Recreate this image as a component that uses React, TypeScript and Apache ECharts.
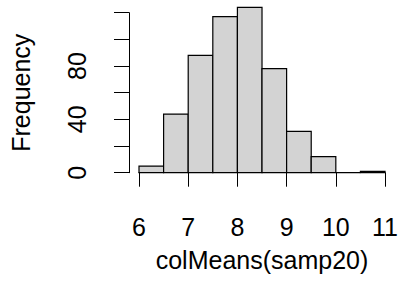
import React, { useEffect, useRef } from "react";
import * as echarts from "echarts";

const binStarts = [6, 6.5, 7, 7.5, 8, 8.5, 9, 9.5, 10, 10.5];
const binEnds = [6.5, 7, 7.5, 8, 8.5, 9, 9.5, 10, 10.5, 11];
const counts = [5, 44, 88, 117, 124, 78, 31, 12, 0, 1];
const xTicks = [6, 7, 8, 9, 10, 11];
const yLabelled = [0, 40, 80];

const FONT = "'Liberation Sans', Arial, Helvetica, sans-serif";

export default function App() {
  const ref = useRef<HTMLDivElement>(null);
  useEffect(() => {
    if (!ref.current) return;
    const chart = echarts.init(ref.current, null, { renderer: "svg" });
    const data = binStarts.map((s, i) => [s, binEnds[i], counts[i]]);
    chart.setOption({
      animation: false,
      backgroundColor: "#ffffff",
      grid: { left: 138.3, right: 13.3, top: 12.7, bottom: 131.3 },
      xAxis: {
        type: "value",
        min: 6,
        max: 11,
        interval: 1,
        offset: 8,
        name: "colMeans(samp20)",
        nameLocation: "middle",
        nameGap: 67,
        nameTextStyle: { fontFamily: FONT, fontSize: 25, color: "#000" },
        axisLine: { show: true, lineStyle: { color: "#000", width: 1 } },
        axisTick: { show: true, length: 14, lineStyle: { color: "#000", width: 1 } },
        axisLabel: {
          show: true,
          margin: 34,
          fontFamily: FONT,
          fontSize: 25,
          color: "#000",
          formatter: (v: number) => (xTicks.includes(v) ? String(v) : ""),
        },
        splitLine: { show: false },
      },
      yAxis: {
        type: "value",
        min: 0,
        max: 120,
        interval: 20,
        offset: 10,
        name: "Frequency",
        nameLocation: "middle",
        nameGap: 96,
        nameTextStyle: { fontFamily: FONT, fontSize: 25, color: "#000" },
        axisLine: { show: true, lineStyle: { color: "#000", width: 1 } },
        axisTick: { show: true, length: 15, lineStyle: { color: "#000", width: 1 } },
        axisLabel: {
          show: true,
          rotate: 90,
          margin: 40,
          fontFamily: FONT,
          fontSize: 25,
          color: "#000",
          formatter: (v: number) => (yLabelled.includes(v) ? String(v) : ""),
        },
        splitLine: { show: false },
      },
      series: [
        {
          type: "custom",
          clip: false,
          data,
          renderItem: (params: any, api: any) => {
            const x0 = api.value(0);
            const x1 = api.value(1);
            const c = api.value(2);
            const p00 = api.coord([x0, 0]);
            const p01 = api.coord([x0, c]);
            const p11 = api.coord([x1, c]);
            const p10 = api.coord([x1, 0]);
            return {
              type: "polygon",
              shape: { points: [p00, p01, p11, p10] },
              style: { fill: "#d3d3d3", stroke: "#000", lineWidth: 1.2 },
            };
          },
        },
      ],
    });
    return () => chart.dispose();
  }, []);
  return (
    <div
      ref={ref}
      style={{ position: "fixed", left: 0, top: 0, width: 401, height: 304, background: "#fff" }}
    />
  );
}
